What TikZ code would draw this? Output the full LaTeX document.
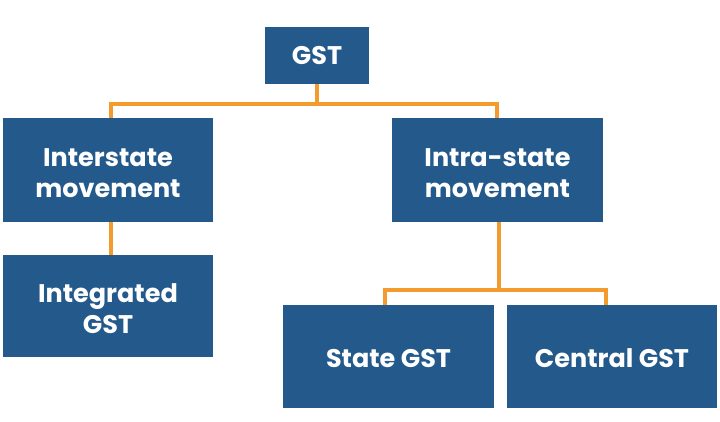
\documentclass[tikz,border=0pt]{standalone}
\usepackage{fontspec}
\setmainfont{Poppins}[UprightFont=* Bold]
\definecolor{boxblue}{HTML}{245A8B}
\definecolor{lineorange}{HTML}{F39B2C}
\begin{document}
\begin{tikzpicture}[x=1pt,y=-1pt,
  box/.style={fill=boxblue,text=white,inner sep=0pt,align=center,
    font=\fontsize{25.5}{31}\selectfont},
  txt/.style={text=white,inner sep=0pt,align=center,yshift=-3pt,
    font=\fontsize{25.5}{31}\selectfont},
  conn/.style={draw=lineorange,line width=4.5pt}]
\useasboundingbox (0,0) rectangle (720,422);
\node[box,minimum width=104pt,minimum height=57pt] (gst) at (317,55.5) {GST};
\node[box,minimum width=210pt,minimum height=104pt,label={[txt]center:Interstate\\movement}] (inter) at (108,170) {};
\node[box,minimum width=211pt,minimum height=104pt,label={[txt]center:Intra-state\\movement}] (intra) at (497.5,170) {};
\node[box,minimum width=210pt,minimum height=102pt,label={[txt]center:Integrated\\GST}] (integ) at (108,306) {};
\node[box,minimum width=211pt,minimum height=103pt,label={[txt,yshift=1pt]center:State GST}] (state) at (388.5,356.5) {};
\node[box,minimum width=210pt,minimum height=103pt,label={[txt,yshift=1pt]center:Central GST}] (central) at (612,356.5) {};
\coordinate (j1) at (317,104);
\coordinate (j2) at (499,290);
\draw[conn] (gst.south) -- (j1);
\draw[conn] (inter.north -| 111,0) |- (j1) -| (intra.north -| 497,0);
\draw[conn] (inter.south -| 111,0) -- (integ.north -| 111,0);
\draw[conn] (intra.south -| j2) -- (j2);
\draw[conn] (state.north -| 385,0) |- (j2) -| (central.north -| 606,0);
\end{tikzpicture}
\end{document}
